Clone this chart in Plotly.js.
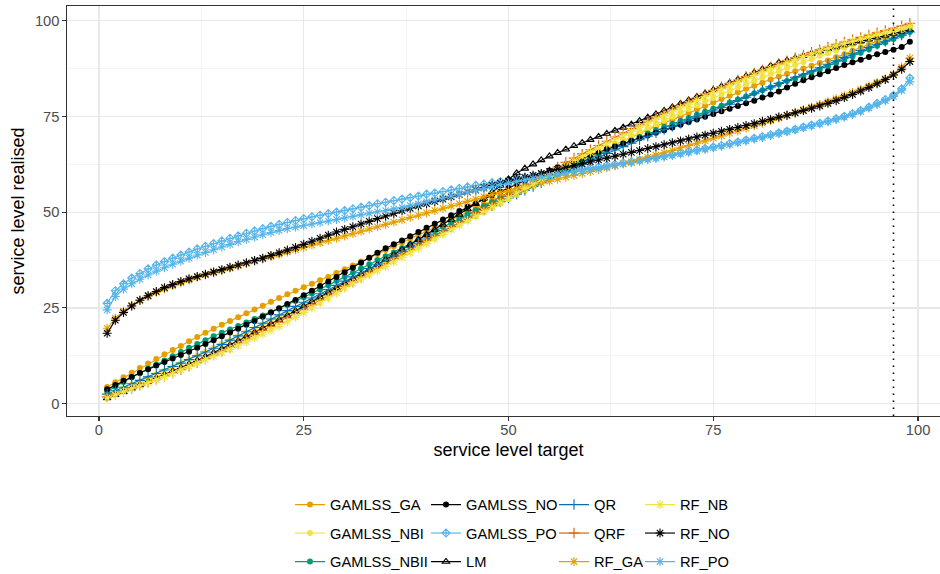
<!DOCTYPE html>
<html>
<head>
<meta charset="utf-8">
<script src="https://cdn.plot.ly/plotly-3.0.1.min.js"></script>
<style>
  html, body { margin: 0; padding: 0; background: #ffffff; overflow: hidden; }
  #chart { width: 950px; height: 574px; }
</style>
</head>
<body>
<div id="chart"></div>
<script>
// service level targets 1..99 (percent)
const target = Array.from({length: 99}, (_, i) => i + 1);

// realised service level per method
const GAMLSS_GA = [4.4,5.6,6.9,8.1,9.3,10.5,11.7,12.9,14.0,15.1,16.3,17.4,18.5,19.6,20.6,21.6,22.6,23.6,24.6,25.6,26.6,27.6,28.6,29.5,30.4,31.3,32.2,33.1,34.1,35.1,36.1,37.1,38.1,39.1,40.1,41.1,42.1,43.1,44.1,45.1,46.1,47.1,48.1,49.1,50.1,51.1,52.1,53.1,54.1,55.1,56.1,57.1,58.0,58.9,59.8,60.7,61.7,62.7,63.7,64.7,65.7,66.7,67.7,68.7,69.7,70.6,71.5,72.4,73.2,74.1,75.0,75.9,76.8,77.7,78.6,79.5,80.4,81.3,82.2,83.0,83.8,84.6,85.4,86.1,86.8,87.5,88.2,88.9,89.6,90.4,91.2,92.1,92.9,93.7,94.6,95.5,96.4,97.4,98.5];
const GAMLSS_NBI = [2.3,3.2,4.1,5.0,5.9,6.8,7.7,8.6,9.6,10.6,11.6,12.6,13.6,14.6,15.6,16.6,17.6,18.6,19.6,20.6,21.6,22.6,23.6,24.7,25.8,26.9,28.0,29.1,30.2,31.3,32.4,33.5,34.6,35.7,36.8,37.9,39.0,40.1,41.2,42.3,43.4,44.5,45.6,46.7,47.8,48.9,50.0,51.1,52.2,53.3,54.4,55.5,56.6,57.7,58.8,59.9,61.0,62.1,63.2,64.3,65.4,66.5,67.6,68.7,69.8,70.9,71.9,72.9,73.9,74.9,75.9,76.9,77.9,78.9,79.8,80.7,81.6,82.5,83.4,84.3,85.2,86.0,86.8,87.6,88.4,89.2,90.0,90.8,91.5,92.2,92.9,93.6,94.3,94.9,95.5,96.1,96.7,97.3,98.0];
const GAMLSS_NBII = [3.2,4.5,5.7,6.9,8.0,9.1,10.2,11.3,12.4,13.5,14.6,15.6,16.6,17.6,18.5,19.4,20.3,21.2,22.1,23.0,23.9,24.8,25.8,26.8,27.8,28.8,29.8,30.9,32.0,33.1,34.2,35.3,36.4,37.5,38.5,39.5,40.6,41.7,42.8,43.9,45.0,46.1,47.2,48.3,49.4,50.5,51.6,52.6,53.6,54.6,55.6,56.6,57.6,58.6,59.6,60.6,61.5,62.4,63.3,64.2,65.1,66.0,66.9,67.8,68.7,69.6,70.5,71.4,72.2,73.0,73.8,74.6,75.4,76.2,77.0,77.8,78.6,79.4,80.2,81.0,81.8,82.6,83.4,84.2,84.9,85.6,86.4,87.2,88.0,88.9,89.8,90.7,91.6,92.5,93.4,94.3,95.2,96.1,97.0];
const GAMLSS_NO = [3.75,4.9,6.0,7.0,8.0,9.0,10.0,10.9,11.8,12.7,13.6,14.6,15.6,16.6,17.6,18.6,19.6,20.6,21.6,22.7,23.8,24.9,26.0,27.1,28.3,29.5,30.7,31.9,33.1,34.3,35.5,36.8,38.1,39.4,40.6,41.6,42.6,43.7,44.8,45.9,47.0,48.1,49.2,50.3,51.4,52.4,53.4,54.4,55.4,56.4,57.3,58.2,59.1,60.0,60.9,61.7,62.5,63.3,64.1,64.9,65.7,66.5,67.2,67.9,68.6,69.3,70.0,70.7,71.4,72.1,72.8,73.5,74.2,74.9,75.6,76.3,77.0,77.7,78.4,79.1,79.9,80.7,81.5,82.5,83.5,84.4,85.2,86.0,86.8,87.6,88.4,89.1,89.8,90.5,91.2,91.8,92.4,93.1,94.5];
const GAMLSS_PO = [26.2,29.5,31.3,32.8,34.0,35.2,36.2,37.1,38.0,38.8,39.6,40.4,41.1,41.8,42.5,43.2,43.8,44.5,45.1,45.7,46.3,46.8,47.3,47.8,48.3,48.8,49.2,49.6,50.0,50.4,50.9,51.3,51.7,52.2,52.6,53.0,53.4,53.8,54.2,54.7,55.0,55.4,55.8,56.2,56.6,57.0,57.3,57.7,58.0,58.3,58.7,59.0,59.4,59.7,60.0,60.3,60.6,60.9,61.2,61.5,61.8,62.2,62.5,62.9,63.2,63.6,64.0,64.3,64.7,65.0,65.4,65.8,66.2,66.6,67.0,67.4,67.9,68.3,68.8,69.3,69.7,70.2,70.7,71.1,71.6,72.2,72.7,73.2,73.8,74.4,75.0,75.7,76.5,77.4,78.4,79.4,80.5,82.2,85.0];
const LM = [1.5,2.3,3.1,4.0,4.9,5.8,6.7,7.6,8.5,9.4,10.3,11.3,12.3,13.3,14.3,15.3,16.4,17.5,18.6,19.7,20.8,21.9,23.0,24.2,25.4,26.6,27.8,29.0,30.2,31.4,32.6,33.8,35.0,36.3,37.6,38.9,40.2,41.5,42.8,44.1,45.4,46.7,48.0,49.4,50.8,52.2,53.6,55.2,56.9,58.6,60.2,61.4,62.5,63.6,64.6,65.5,66.4,67.3,68.1,68.9,69.7,70.5,71.3,72.1,72.9,73.8,74.7,75.6,76.5,77.4,78.3,79.2,80.1,81.0,81.9,82.8,83.7,84.6,85.5,86.4,87.3,88.2,89.0,89.6,90.2,90.8,91.4,92.0,92.6,93.1,93.6,94.1,94.6,95.1,95.6,96.1,96.6,97.1,97.6];
const QR = [2.5,3.4,4.3,5.2,6.1,7.0,7.9,8.8,9.7,10.6,11.5,12.5,13.5,14.5,15.5,16.6,17.7,18.8,19.9,21.0,22.1,23.2,24.3,25.4,26.5,27.6,28.7,29.8,30.9,32.0,33.1,34.2,35.3,36.4,37.5,38.6,39.7,40.8,41.9,43.0,44.1,45.2,46.3,47.4,48.5,49.6,50.7,51.7,52.7,53.7,54.7,55.7,56.7,57.7,58.7,59.7,60.7,61.7,62.6,63.5,64.4,65.3,66.2,67.1,68.0,68.9,69.8,70.7,71.6,72.4,73.2,74.0,74.8,75.6,76.4,77.3,78.2,79.1,80.0,80.9,81.8,82.7,83.6,84.4,85.2,86.0,86.8,87.7,88.6,89.5,90.4,91.3,92.2,93.0,93.8,94.6,95.4,96.2,97.0];
const QRF = [1.8,2.5,3.2,4.0,4.8,5.6,6.4,7.2,8.0,8.9,9.8,10.7,11.7,12.7,13.7,14.7,15.8,16.9,18.0,19.1,20.2,21.3,22.4,23.5,24.6,25.8,27.0,28.2,29.4,30.6,31.8,33.0,34.2,35.4,36.6,37.8,39.0,40.2,41.4,42.6,43.8,45.0,46.2,47.4,48.6,49.8,51.0,52.2,53.4,54.6,55.8,57.0,58.2,59.4,60.6,61.8,63.0,64.1,65.2,66.3,67.4,68.5,69.6,70.7,71.8,72.8,73.8,74.8,75.8,76.8,77.8,78.8,79.8,80.8,81.8,82.7,83.6,84.5,85.4,86.3,87.1,87.9,88.7,89.5,90.3,91.0,91.7,92.4,93.1,93.8,94.4,95.0,95.6,96.2,96.8,97.4,98.0,98.6,99.3];
const RF_GA = [19.7,22.3,24.2,25.7,27.0,28.1,29.1,30.0,30.8,31.6,32.3,33.0,33.6,34.2,34.8,35.4,36.0,36.6,37.2,37.8,38.4,39.0,39.6,40.2,40.8,41.4,42.0,42.6,43.2,43.8,44.4,45.0,45.6,46.2,46.8,47.4,48.0,48.6,49.2,49.8,50.4,51.0,51.6,52.2,52.8,53.4,54.0,54.6,55.1,55.6,56.1,56.6,57.1,57.6,58.1,58.6,59.1,59.6,60.1,60.6,61.1,61.6,62.1,62.6,63.1,63.7,64.3,64.9,65.5,66.1,66.8,67.4,68.0,68.6,69.3,69.9,70.6,71.2,71.9,72.6,73.2,73.9,74.6,75.3,76.0,76.7,77.4,78.1,78.8,79.6,80.4,81.2,82.0,82.9,83.8,84.8,86.0,87.8,90.2];
const RF_NB = [1.5,2.3,3.1,3.9,4.7,5.5,6.3,7.1,7.9,8.8,9.7,10.6,11.5,12.4,13.3,14.2,15.2,16.2,17.2,18.2,19.2,20.2,21.4,22.6,23.8,25.0,26.3,27.6,28.9,30.2,31.4,32.5,33.6,34.7,35.8,37.0,38.2,39.4,40.6,41.8,43.0,44.2,45.4,46.6,47.8,49.0,50.2,51.4,52.6,53.8,55.0,56.2,57.4,58.6,59.8,61.0,62.2,63.4,64.5,65.6,66.7,67.8,68.9,70.0,71.1,72.2,73.2,74.2,75.2,76.2,77.2,78.2,79.2,80.2,81.2,82.1,83.0,83.9,84.8,85.7,86.6,87.4,88.2,89.0,89.8,90.6,91.3,92.0,92.7,93.4,94.0,94.6,95.2,95.8,96.4,96.9,97.4,97.9,98.5];
const RF_NO = [18.4,21.8,23.8,25.5,27.0,28.2,29.3,30.3,31.1,31.9,32.6,33.2,33.8,34.4,35.0,35.6,36.2,36.8,37.4,38.0,38.7,39.4,40.1,40.8,41.6,42.4,43.2,44.0,44.8,45.5,46.2,46.9,47.6,48.3,49.0,49.7,50.4,51.0,51.6,52.2,52.8,53.4,54.0,54.6,55.2,55.8,56.4,57.0,57.6,58.1,58.6,59.1,59.6,60.1,60.6,61.1,61.6,62.1,62.6,63.1,63.6,64.1,64.6,65.1,65.6,66.1,66.6,67.1,67.6,68.1,68.6,69.1,69.6,70.1,70.6,71.1,71.6,72.1,72.6,73.1,73.7,74.2,74.8,75.3,75.9,76.5,77.1,77.7,78.4,79.1,79.9,80.7,81.6,82.5,83.5,84.6,85.8,87.3,89.3];
const RF_PO = [24.5,28.0,29.9,31.3,32.5,33.6,34.6,35.5,36.4,37.2,38.0,38.8,39.5,40.2,40.9,41.6,42.3,42.9,43.5,44.1,44.7,45.2,45.7,46.1,46.5,46.9,47.3,47.7,48.1,48.5,48.9,49.3,49.7,50.1,50.4,50.8,51.2,51.7,52.2,52.7,53.2,53.7,54.2,54.7,55.2,55.7,56.2,56.7,57.2,57.6,58.0,58.4,58.8,59.2,59.5,59.9,60.2,60.5,60.8,61.2,61.5,61.9,62.2,62.6,62.9,63.3,63.7,64.0,64.4,64.8,65.2,65.6,66.0,66.4,66.8,67.2,67.6,68.1,68.6,69.1,69.5,70.0,70.5,71.0,71.5,72.0,72.5,73.0,73.6,74.2,74.8,75.5,76.3,77.2,78.1,79.1,80.2,81.8,84.0];

const xTicks = [0, 25, 50, 75, 100];
const yTicks = [0, 25, 50, 75, 100];
const referenceTarget = 97;

// method name, values, colour, marker symbol, marker size, legend column, legend row
const methods = [
  ['GAMLSS_GA',   GAMLSS_GA,   '#E69F00', 'circle',             6,   0, 0],
  ['GAMLSS_NBI',  GAMLSS_NBI,  '#F0E442', 'circle',             6,   0, 1],
  ['GAMLSS_NBII', GAMLSS_NBII, '#009E73', 'circle',             6,   0, 2],
  ['GAMLSS_NO',   GAMLSS_NO,   '#000000', 'circle',             6,   1, 0],
  ['GAMLSS_PO',   GAMLSS_PO,   '#56B4E9', 'diamond-cross-open', 6.2, 1, 1],
  ['LM',          LM,          '#000000', 'triangle-up-open',   6.5, 1, 2],
  ['QR',          QR,          '#0072B2', 'cross-thin-open',    7.5, 2, 0],
  ['QRF',         QRF,         '#D55E00', 'cross-thin-open',    7.5, 2, 1],
  ['RF_GA',       RF_GA,       '#E69F00', 'asterisk-open',      7.5, 2, 2],
  ['RF_NB',       RF_NB,       '#F0E442', 'asterisk-open',      7.5, 3, 0],
  ['RF_NO',       RF_NO,       '#000000', 'asterisk-open',      7.5, 3, 1],
  ['RF_PO',       RF_PO,       '#56B4E9', 'asterisk-open',      7.5, 3, 2]
];

// figure geometry (px)
const W = 950, H = 574;
const M = {l: 67, r: 0, t: 6, b: 158};
const plotW = W - M.l - M.r, plotH = H - M.t - M.b;
const colKey = [310, 446, 574, 660];   // centre of legend key symbols
const rowMid = [505, 533.5, 562];      // vertical centre of legend rows

function axisStyle(ticks, range, title, standoff, labelShift) {
  const step = ticks[1] - ticks[0];
  return {
    range: range, autorange: false,
    tickmode: 'linear', tick0: ticks[0], dtick: step,
    ticks: 'outside', ticklen: 3.5, tickwidth: 1.1, tickcolor: '#333333',
    tickfont: {size: 14.7, color: '#4D4D4D'},
    ticklabelstandoff: labelShift,
    showgrid: true, gridcolor: '#E8E8E8', gridwidth: 1.2,
    minor: {tickmode: 'linear', tick0: ticks[0], dtick: step / 2, showgrid: true,
            gridcolor: '#EDEDED', gridwidth: 0.6, ticks: ''},
    zeroline: false, automargin: false,
    showline: true, linecolor: '#333333', linewidth: 1.1, mirror: true,
    title: {text: title, font: {size: 18, color: '#000000'}, standoff: standoff}
  };
}

const traces = [];
const layout = {
  width: W, height: H,
  margin: {l: M.l, r: M.r, t: M.t, b: M.b, autoexpand: false},
  paper_bgcolor: '#ffffff',
  plot_bgcolor: '#ffffff',
  font: {family: '"Liberation Sans", Arial, sans-serif', color: '#000000'},
  showlegend: true,
  xaxis: axisStyle(xTicks, [-3.9, 103.9], 'service level target', 6, -3),
  yaxis: axisStyle(yTicks, [-3.2, 103.8], 'service level realised', 5, 0),
  shapes: [{
    type: 'line', xref: 'x', yref: 'paper',
    x0: referenceTarget, x1: referenceTarget, y0: 0, y1: 1,
    line: {color: '#000000', width: 1.6, dash: '1.6px,5.4px'}
  }]
};

methods.forEach((m, i) => {
  const [name, vals, color, symbol, size, col, row] = m;
  const legendId = i === 0 ? 'legend' : 'legend' + (i + 1);
  const open = symbol.endsWith('-open');
  traces.push({
    type: 'scatter', mode: 'lines+markers',
    name: name, x: target, y: vals,
    legend: legendId,
    line: {color: color, width: 1.15},
    marker: {color: color, symbol: symbol, size: size,
             line: {color: color, width: open ? 1.1 : 0}},
    hoverinfo: 'x+y+name'
  });
  layout[legendId] = {
    xref: 'paper', yref: 'paper',
    x: (colKey[col] - 20 - M.l) / plotW, xanchor: 'left',
    y: (H - M.b - rowMid[row]) / plotH, yanchor: 'middle',
    bgcolor: 'rgba(0,0,0,0)', borderwidth: 0,
    font: {size: 14.7, color: '#000000'}
  };
});

Plotly.newPlot('chart', traces, layout, {displayModeBar: false, staticPlot: true});
</script>
</body>
</html>
